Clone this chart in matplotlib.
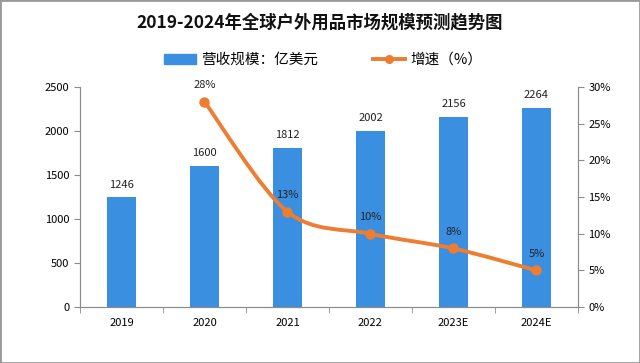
import numpy as np
import matplotlib
matplotlib.use("Agg")
import matplotlib.pyplot as plt
from matplotlib.path import Path
from matplotlib.patches import PathPatch, Rectangle
from matplotlib.lines import Line2D

plt.rcParams["font.family"] = ["Noto Sans CJK SC", "DejaVu Sans"]

# data
years = ["2019", "2020", "2021", "2022", "2023E", "2024E"]
revenue = [1246, 1600, 1812, 2002, 2156, 2264]
growth_years = ["2020", "2021", "2022", "2023E", "2024E"]
growth = [28, 13, 10, 8, 5]
growth_labels = ["28%", "13%", "10%", "8%", "5%"]

bar_color = "#3a8fe0"
line_color = "#ed7d31"
axis_color = "#8c8c8c"

fig = plt.figure(figsize=(6.4, 3.63), dpi=100)
ax = fig.add_axes([0.125, 0.154, 0.778, 0.606])
ax2 = ax.twinx()

x = np.arange(len(years))
ax.bar(x, revenue, width=0.35, color=bar_color, zorder=2)
for xi, v in zip(x, revenue):
    ax.text(xi, v + 90, str(v), ha="center", va="bottom", fontsize=8, color="#222222")

ax.set_xlim(-0.5, len(years) - 0.5)
ax.set_ylim(0, 2500)
ax.set_yticks([0, 500, 1000, 1500, 2000, 2500])
ax.set_xticks(x)
ax.set_xticklabels(years, fontsize=8)
ax.set_xticks(np.arange(-0.5, len(years), 1), minor=True)
ax.tick_params(axis="x", which="major", length=0, pad=8)
ax.tick_params(axis="x", which="minor", length=4, color=axis_color)
ax.tick_params(axis="y", labelsize=8, length=4, color=axis_color)

# growth line, smoothed with bezier segments
gx = [years.index(g) for g in growth_years]
pts = list(zip(gx, growth))
verts = [pts[0]]
codes = [Path.MOVETO]
t = 0.16
for i in range(len(pts) - 1):
    p0 = pts[i - 1] if i > 0 else pts[i]
    p1 = pts[i]
    p2 = pts[i + 1]
    p3 = pts[i + 2] if i + 2 < len(pts) else pts[i + 1]
    c1 = (p1[0] + (p2[0] - p0[0]) * t, p1[1] + (p2[1] - p0[1]) * t)
    c2 = (p2[0] - (p3[0] - p1[0]) * t, p2[1] - (p3[1] - p1[1]) * t)
    verts += [c1, c2, p2]
    codes += [Path.CURVE4, Path.CURVE4, Path.CURVE4]
ax2.add_patch(PathPatch(Path(verts, codes), facecolor="none",
                        edgecolor=line_color, lw=2.8, zorder=3))
ax2.plot(gx, growth, "o", color=line_color, ms=6.5, zorder=4)
for xi, v, lab in zip(gx, growth, growth_labels):
    ax2.text(xi, v + 1.6, lab, ha="center", va="bottom", fontsize=8, color="#222222")

ax2.set_ylim(0, 30)
ax2.set_yticks([0, 5, 10, 15, 20, 25, 30])
ax2.set_yticklabels([f"{v}%" for v in range(0, 31, 5)])
ax2.tick_params(axis="y", labelsize=8, length=4, color=axis_color)

for a in (ax, ax2):
    a.spines["top"].set_visible(False)
    for s in ("left", "right", "bottom"):
        a.spines[s].set_color(axis_color)

# title
fig.text(0.5, 0.937, "2019-2024年全球户外用品市场规模预测趋势图", ha="center",
         va="center", fontsize=12.5, fontweight="bold", color="#111111")

# legend
handles = [Rectangle((0, 0), 1, 1, color=bar_color),
           Line2D([0], [0], color=line_color, lw=2.8, marker="o", ms=5.5)]
fig.legend(handles, ["营收规模：亿美元", "增速（%）"], loc="center",
           bbox_to_anchor=(0.505, 0.835), ncol=2, frameon=False, fontsize=10.5,
           handlelength=2.2, handletextpad=0.35, columnspacing=3.8)

# frame around image
fig.add_artist(Rectangle((0, 0), 1, 1, transform=fig.transFigure,
                         fill=False, edgecolor="#999999", lw=2))

fig.savefig("out.png", dpi=100)
